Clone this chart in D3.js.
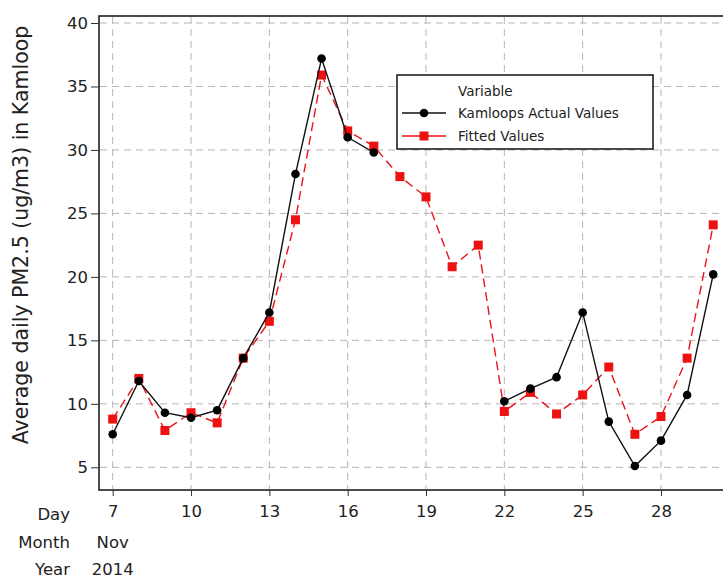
<!DOCTYPE html>
<html>
<head>
<meta charset="utf-8">
<script src="https://cdn.jsdelivr.net/npm/d3@7/dist/d3.min.js"></script>
<style>
  html, body { margin: 0; padding: 0; background: #fff; }
  svg text { font-family: "DejaVu Sans", sans-serif; fill: #222; }
</style>
</head>
<body>
<svg id="chart" width="723" height="579"></svg>
<script>
// Daily PM2.5 in Kamloops, November 2014: observed vs fitted
const days = [7, 8, 9, 10, 11, 12, 13, 14, 15, 16, 17, 18, 19, 20, 21, 22, 23, 24, 25, 26, 27, 28, 29, 30];
// null = no observation that day
const actualValues = [7.6, 11.8, 9.3, 8.9, 9.5, 13.6, 17.2, 28.1, 37.2, 31.0, 29.8, null, null, null, null,
                      10.2, 11.2, 12.1, 17.2, 8.6, 5.1, 7.1, 10.7, 20.2];
const fittedValues = [8.8, 12.0, 7.9, 9.3, 8.5, 13.6, 16.5, 24.5, 35.9, 31.5, 30.3, 27.9, 26.3, 20.8, 22.5,
                      9.4, 10.9, 9.2, 10.7, 12.9, 7.6, 9.0, 13.6, 24.1];
const yTicks = [5, 10, 15, 20, 25, 30, 35, 40];
const xTicks = [7, 10, 13, 16, 19, 22, 25, 28];
const monthLabel = "Nov";
const yearLabel = "2014";
const seriesNames = ["Kamloops Actual Values", "Fitted Values"];

const svg = d3.select("#chart");
const FONT = "DejaVu Sans, sans-serif";
const TICK_SIZE = 16.5;

const frame = { left: 99, top: 16, right: 740, bottom: 490 };

const x = d3.scaleLinear().domain([7, 28]).range([112.7, 661]);
const y = d3.scaleLinear().domain([5, 40]).range([467.3, 23]);

// plot frame
svg.append("rect")
  .attr("x", frame.left).attr("y", frame.top)
  .attr("width", frame.right - frame.left).attr("height", frame.bottom - frame.top)
  .attr("fill", "none").attr("stroke", "#111").attr("stroke-width", 1.5);

// dashed grid
const grid = svg.append("g").attr("stroke", "#b5b5b5").attr("stroke-width", 1).attr("stroke-dasharray", "7,5");
grid.selectAll("line.v").data(xTicks).join("line")
  .attr("x1", d => x(d)).attr("x2", d => x(d))
  .attr("y1", frame.top + 1).attr("y2", frame.bottom - 1);
grid.selectAll("line.h").data(yTicks).join("line")
  .attr("x1", frame.left + 1).attr("x2", frame.right)
  .attr("y1", d => y(d)).attr("y2", d => y(d));

// y axis
const yAxis = d3.axisLeft(y).tickValues(yTicks).tickSize(8).tickPadding(3);
const gy = svg.append("g").attr("transform", `translate(${frame.left},0)`).call(yAxis);
gy.select(".domain").remove();
gy.selectAll(".tick line").attr("stroke", "#333");
gy.selectAll(".tick text").attr("font-size", TICK_SIZE).attr("font-family", FONT).attr("fill", "#222");

// x axis
const xAxis = d3.axisBottom(x).tickValues(xTicks).tickSize(6).tickPadding(9);
const gx = svg.append("g").attr("transform", `translate(0,${frame.bottom})`).call(xAxis);
gx.select(".domain").remove();
gx.selectAll(".tick line").attr("stroke", "#333");
gx.selectAll(".tick text").attr("font-size", TICK_SIZE).attr("font-family", FONT).attr("fill", "#222");

// date row labels
const rows = [["Day", null], ["Month", monthLabel], ["Year", yearLabel]];
rows.forEach((r, i) => {
  const yy = 520 + i * 27.5;
  svg.append("text").attr("x", 70).attr("y", yy).attr("text-anchor", "end")
    .attr("font-size", TICK_SIZE).text(r[0]);
  if (r[1]) {
    svg.append("text").attr("x", x(7)).attr("y", yy).attr("text-anchor", "middle")
      .attr("font-size", TICK_SIZE).text(r[1]);
  }
});

// y axis title
svg.append("text")
  .attr("transform", `translate(28,235) rotate(-90)`)
  .attr("text-anchor", "middle").attr("font-size", 20.5)
  .text("Average daily PM2.5 (ug/m3) in Kamloop");

const plot = svg.append("g");

const lineGen = d3.line()
  .defined(d => d.v !== null)
  .x(d => x(d.day)).y(d => y(d.v));

const fitted = days.map((d, i) => ({ day: d, v: fittedValues[i] }));
const actual = days.map((d, i) => ({ day: d, v: actualValues[i] }));

// fitted series: red dashed line with square markers
plot.append("path").datum(fitted)
  .attr("d", lineGen).attr("fill", "none")
  .attr("stroke", "#e8141b").attr("stroke-width", 1.4).attr("stroke-dasharray", "9,5");
plot.selectAll("rect.fit").data(fitted).join("rect")
  .attr("class", "fit")
  .attr("x", d => x(d.day) - 4.5).attr("y", d => y(d.v) - 4.5)
  .attr("width", 9).attr("height", 9).attr("fill", "#ee1111");

// actual series: black line with circle markers
plot.append("path").datum(actual)
  .attr("d", lineGen).attr("fill", "none")
  .attr("stroke", "#111").attr("stroke-width", 1.4);
plot.selectAll("circle.act").data(actual.filter(d => d.v !== null)).join("circle")
  .attr("class", "act")
  .attr("cx", d => x(d.day)).attr("cy", d => y(d.v)).attr("r", 4.3).attr("fill", "#000");

// legend
const lg = svg.append("g");
lg.append("rect").attr("x", 397).attr("y", 75).attr("width", 256).attr("height", 74)
  .attr("fill", "#fff").attr("stroke", "#111").attr("stroke-width", 1.5);
lg.append("text").attr("x", 458).attr("y", 96).attr("font-size", 13.5).text("Variable");
seriesNames.forEach((name, i) => {
  const ly = 113 + i * 23;
  if (i === 0) {
    lg.append("line").attr("x1", 402).attr("x2", 446).attr("y1", ly).attr("y2", ly)
      .attr("stroke", "#111").attr("stroke-width", 1.4);
    lg.append("circle").attr("cx", 424).attr("cy", ly).attr("r", 4.3).attr("fill", "#000");
  } else {
    lg.append("line").attr("x1", 402).attr("x2", 446).attr("y1", ly).attr("y2", ly)
      .attr("stroke", "#e8141b").attr("stroke-width", 1.4);
    lg.append("rect").attr("x", 419.5).attr("y", ly - 4.5).attr("width", 9).attr("height", 9).attr("fill", "#ee1111");
  }
  lg.append("text").attr("x", 458).attr("y", ly + 5).attr("font-size", 13.5).text(name);
});
</script>
</body>
</html>
